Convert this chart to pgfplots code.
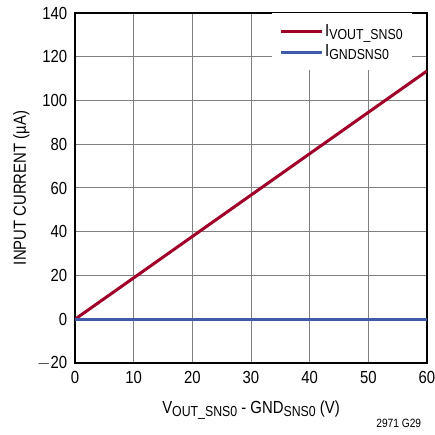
\documentclass[border=0pt]{standalone}
\usepackage{pgfplots}
\pgfplotsset{compat=1.18}
\usepackage{fontspec}
\setmainfont{Liberation Sans}[FakeStretch=0.85]
\definecolor{ltred}{RGB}{160,0,40}
\definecolor{ltblue}{RGB}{64,90,170}
\newcommand{\sub}[1]{\raisebox{-0.3ex}{\fontsize{14.5}{15}\selectfont #1}}
\begin{document}
\fontsize{17}{20}\selectfont
\begin{tikzpicture}
\begin{axis}[
  at={(0,0)}, anchor=south west,
  scale only axis, width=352pt, height=350pt,
  xmin=0, xmax=60, ymin=-20, ymax=140,
  xtick={0,10,...,60}, ytick={-20,0,...,140},
  yticklabels={$-$20,0,20,40,60,80,100,120,140},
  major tick length=0pt,
  grid=major,
  major grid style={black!50, line width=1pt},
  axis line style={black, line width=1.5pt},
  tick label style={font=\fontsize{17.5}{20}\selectfont},
  /pgf/number format/assume math mode=true,
  xticklabel style={yshift=-2pt},
  yticklabel style={xshift=-2pt},
  xlabel={V\sub{OUT\_SNS0} - GND\sub{SNS0} (V)},
  ylabel={INPUT CURRENT (µA)},
  label style={font=\fontsize{17.5}{20}\selectfont},
  xlabel style={yshift=-6pt},
  ylabel style={yshift=-4pt},
  legend style={at={(rel axis cs:0.957,1)}, anchor=north east, draw=none,
    fill=white, font=\fontsize{17.5}{18}\selectfont,
    inner xsep=7pt, inner ysep=9pt,
    row sep=2pt, legend cell align=left},
  legend image code/.code={\draw[#1] (0pt,0pt) -- (41pt,0pt);},
]
\addplot[ltred, line width=3pt] coordinates {(0,0) (60,113.5)};
\addlegendentry{I\sub{VOUT\_SNS0}\hspace{6pt}}
\addplot[ltblue, line width=3pt] coordinates {(0,0) (60,0)};
\addlegendentry{I\sub{GNDSNS0}}
\end{axis}
\node[anchor=south east, font=\fontsize{12}{12}\selectfont] at (352pt,-70pt) {2971 G29};
\pgfresetboundingbox
\path[use as bounding box] (-75pt,-72pt) rectangle (359pt,363pt);
\end{tikzpicture}
\end{document}
